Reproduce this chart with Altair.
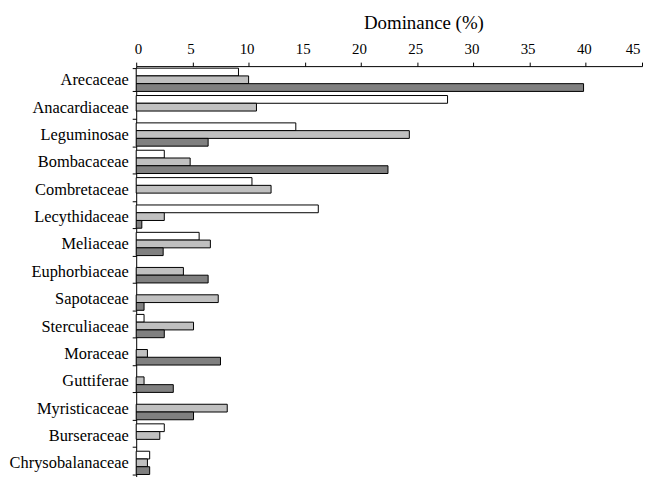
import altair as alt
import pandas as pd

families = ["Arecaceae", "Anacardiaceae", "Leguminosae", "Bombacaceae", "Combretaceae",
            "Lecythidaceae", "Meliaceae", "Euphorbiaceae", "Sapotaceae", "Sterculiaceae",
            "Moraceae", "Guttiferae", "Myristicaceae", "Burseraceae", "Chrysobalanaceae"]
series = ["Series 1", "Series 2", "Series 3"]
white_vals = [9.1, 27.7, 14.2, 2.5, 10.3, 16.2, 5.6, 0, 0, 0.7, 0, 0, 0, 2.5, 1.2]
light_vals = [10.0, 10.7, 24.3, 4.8, 12.0, 2.5, 6.6, 4.2, 7.3, 5.1, 1.0, 0.7, 8.1, 2.1, 1.0]
dark_vals = [39.8, 0, 6.4, 22.4, 0, 0.5, 2.4, 6.4, 0.7, 2.5, 7.5, 3.3, 5.1, 0, 1.2]
fills = ["#ffffff", "#c0c0c0", "#808080"]
ticks = [0, 5, 10, 15, 20, 25, 30, 35, 40, 45]

rows = []
for s, vals in zip(series, [white_vals, light_vals, dark_vals]):
    for f, v in zip(families, vals):
        if v > 0:
            rows.append({"family": f, "series": s, "value": v})
df = pd.DataFrame(rows)

font = "Liberation Serif, Times New Roman, serif"

chart = alt.Chart(df).mark_bar(stroke="black", strokeWidth=1).encode(
    x=alt.X("value:Q",
            scale=alt.Scale(domain=[0, 45], nice=False),
            axis=alt.Axis(orient="top", values=ticks, title="Dominance (%)", grid=False,
                          domainColor="black", tickColor="black", tickSize=4,
                          labelFont=font, labelFontSize=15, labelColor="black",
                          labelPadding=6, labelOffset=-2,
                          titleFont=font, titleFontSize=19, titleFontWeight="normal",
                          titleColor="black", titleX=289, titleY=-38,
                          titleBaseline="alphabetic", titleAlign="center")),
    y=alt.Y("family:N", sort=families,
            scale=alt.Scale(paddingInner=0.15, paddingOuter=0.075),
            axis=alt.Axis(title=None, tickBand="extent", domainColor="black",
                          tickColor="black", tickSize=4, labelFont=font,
                          labelFontSize=16.5, labelColor="black", labelPadding=4)),
    yOffset=alt.YOffset("series:N", sort=series,
                        scale=alt.Scale(domain=series, paddingInner=0, paddingOuter=0)),
    color=alt.Color("series:N", scale=alt.Scale(domain=series, range=fills), legend=None),
).properties(
    width=509, height=413, background="white",
    padding={"left": 0, "top": 4, "right": 0, "bottom": 0},
).configure(font=font).configure_view(stroke=None)

chart.save("out.html", embed_options={"renderer": "svg", "actions": False})
